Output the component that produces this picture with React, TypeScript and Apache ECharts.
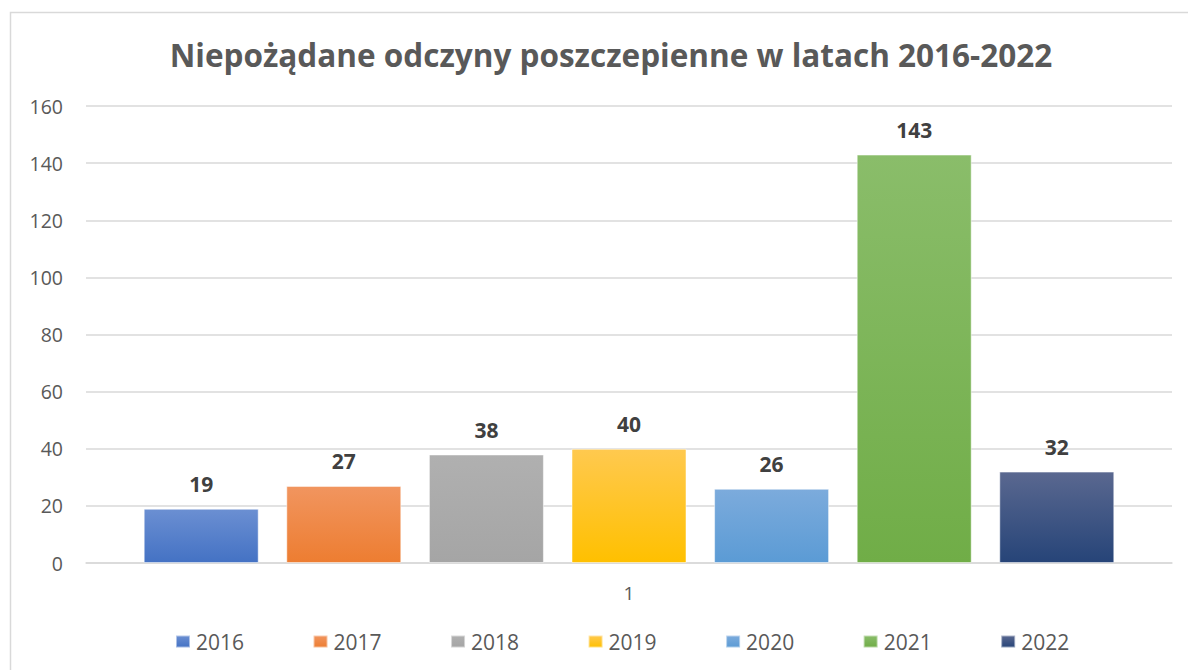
import React, { useEffect, useRef } from "react";
import * as echarts from "echarts";

const title = "Niepożądane odczyny poszczepienne w latach 2016-2022";
const categories = ["1"];
const years = ["2016", "2017", "2018", "2019", "2020", "2021", "2022"];
const values = [19, 27, 38, 40, 26, 143, 32];
const topColors = ["#6b8fd2", "#f1955f", "#b0b0b0", "#ffc94f", "#7cabdc", "#8abd6a", "#5a6890"];
const bottomColors = ["#4472c4", "#ed7d31", "#a5a5a5", "#ffc000", "#5b9bd5", "#70ad47", "#264478"];
const yTicks = { min: 0, max: 160, interval: 20 };

export default function App() {
  const ref = useRef<HTMLDivElement>(null);
  useEffect(() => {
    if (!ref.current) return;
    const chart = echarts.init(ref.current, null, { renderer: "svg" });
    const font = "'Open Sans', sans-serif";
    chart.setOption({
      animation: false,
      backgroundColor: "#ffffff",
      title: {
        text: title,
        left: 606,
        textAlign: "center",
        top: 33,
        textStyle: { fontFamily: font, fontWeight: "bold", fontSize: 31.5, color: "#595959" },
      },
      graphic: [
        {
          type: "rect",
          shape: { x: 10.5, y: 12.5, width: 1200, height: 700 },
          style: { fill: "none", stroke: "#d9d9d9", lineWidth: 1.5 },
          silent: true,
        },
      ],
      legend: {
        left: 175,
        top: 631,
        padding: 0,
        icon: "rect",
        itemWidth: 14,
        itemHeight: 12,
        itemGap: 68.5,
        textStyle: { fontFamily: font, fontSize: 21, color: "#595959", width: 48, padding: [0, 0, 0, 1] },
        data: years,
      },
      grid: { left: 86, right: 16, top: 106, bottom: 107 },
      xAxis: {
        type: "category",
        data: categories,
        axisTick: { show: false },
        axisLine: { lineStyle: { color: "#d9d9d9", width: 1.5 } },
        axisLabel: { fontFamily: font, fontSize: 19, color: "#595959", margin: 20 },
      },
      yAxis: {
        type: "value",
        min: yTicks.min,
        max: yTicks.max,
        interval: yTicks.interval,
        axisLine: { show: false },
        axisTick: { show: false },
        splitLine: { lineStyle: { color: "#d9d9d9", width: 1.5 } },
        axisLabel: { fontFamily: font, fontSize: 19.5, color: "#595959", margin: 23 },
      },
      series: years.map((y, i) => ({
        name: y,
        type: "bar",
        barWidth: 115,
        barGap: "24%",
        data: [values[i]],
        itemStyle: {
          color: new echarts.graphic.LinearGradient(0, 0, 0, 1, [
            { offset: 0, color: topColors[i] },
            { offset: 1, color: bottomColors[i] },
          ]),
          borderColor: "rgba(255,255,255,0.5)",
          borderWidth: 1,
        },
        label: {
          show: true,
          position: "top",
          distance: 14,
          fontFamily: font,
          fontWeight: "bold",
          fontSize: 21,
          color: "#404040",
        },
      })),
    });
    return () => chart.dispose();
  }, []);
  return (
    <div
      ref={ref}
      style={{ position: "fixed", left: 0, top: 0, width: 1188, height: 670 }}
    />
  );
}
